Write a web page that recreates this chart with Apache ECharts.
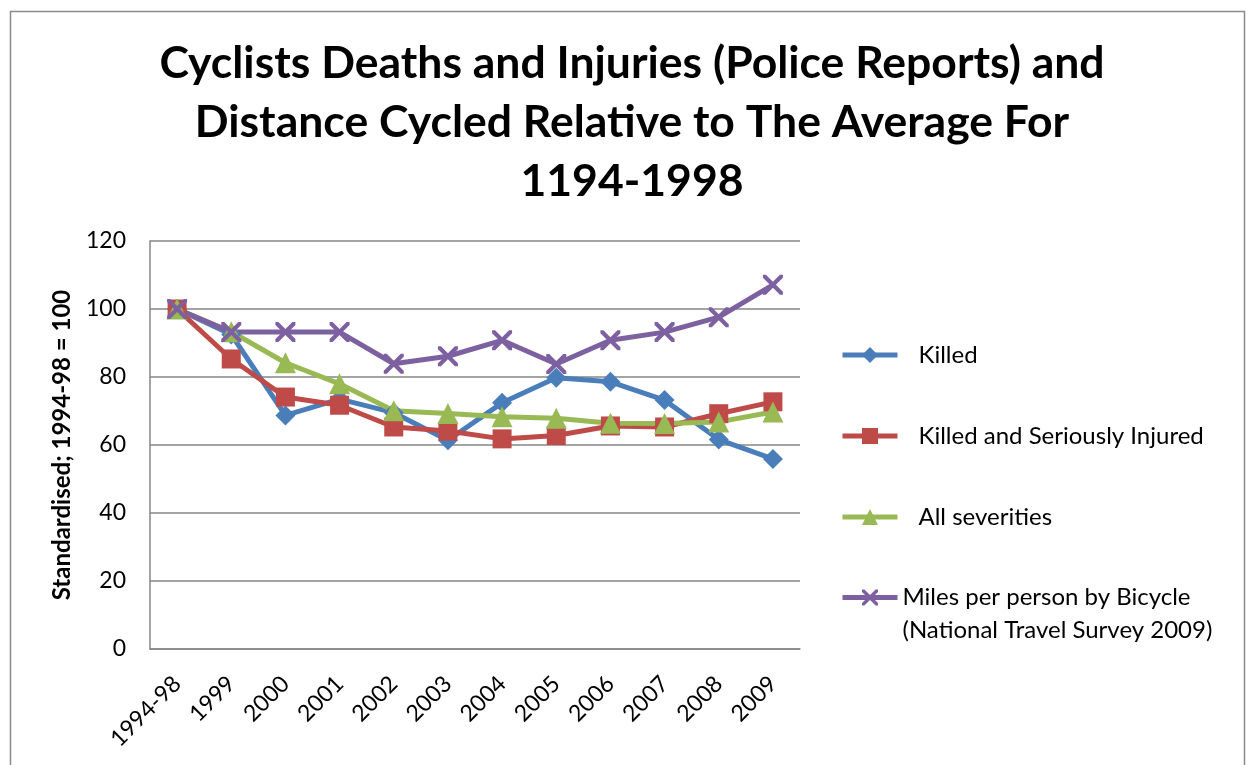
<!DOCTYPE html>
<html>
<head>
<meta charset="utf-8">
<script src="https://cdn.jsdelivr.net/npm/echarts@6/dist/echarts.min.js"></script>
<style>
html,body{margin:0;padding:0;background:#fff;}
#chart{width:1248px;height:765px;}
</style>
</head>
<body>
<div id="chart"></div>
<script>
const categories = ['1994-98','1999','2000','2001','2002','2003','2004','2005','2006','2007','2008','2009'];
const killed = [100, 92.5, 68.7, 73.5, 69.5, 61.4, 72.4, 79.8, 78.6, 73.2, 61.6, 55.9];
const killedSerious = [100, 85.3, 74.1, 71.7, 65.3, 64.1, 61.8, 62.8, 65.6, 65.3, 69.2, 72.7];
const allSeverities = [100, 93.3, 84.2, 78.0, 70.1, 69.3, 68.3, 67.9, 66.4, 66.3, 66.8, 69.7];
const milesPerPerson = [100, 93.2, 93.2, 93.2, 83.9, 86.1, 90.8, 83.8, 90.8, 93.2, 97.6, 107.1];
const yTicks = [0, 20, 40, 60, 80, 100, 120];

const FONT = 'Lato';
const xPath = 'path://M0,0 L3,0 L10,7 L17,0 L20,0 L20,3 L13,10 L20,17 L20,20 L17,20 L10,13 L3,20 L0,20 L0,17 L7,10 L0,3 Z';

const chart = echarts.init(document.getElementById('chart'), null, {renderer: 'canvas'});
const colors = ['#4A7EBB', '#BE4B48', '#98B954', '#7D60A0'];

function mk(name, data, color, symbol, size) {
  return {
    name: name, type: 'line', data: data,
    symbol: symbol, symbolSize: size,
    lineStyle: {color: color, width: 5},
    itemStyle: {color: color},
    emphasis: {disabled: true},
    animation: false
  };
}

chart.setOption({
  animation: false,
  color: colors,
  graphic: [{
    type: 'rect', shape: {x: 10.5, y: 11.5, width: 1234, height: 800},
    style: {fill: 'none', stroke: '#8a8a8a', lineWidth: 1.5}, silent: true
  }],
  title: {
    text: 'Cyclists Deaths and Injuries (Police Reports) and\nDistance Cycled Relative to The Average For\n1194-1998',
    left: 627, top: 29, textAlign: 'center',
    textStyle: {fontFamily: FONT, fontWeight: 'bold', fontSize: 44.5, lineHeight: 59, color: '#000'}
  },
  grid: {left: 150, right: 448, top: 241, bottom: 116, containLabel: false},
  xAxis: {
    type: 'category', data: categories, boundaryGap: true,
    axisLine: {lineStyle: {color: '#868686', width: 1.5}},
    axisTick: {show: false},
    axisLabel: {rotate: 45, interval: 0, margin: 31, fontFamily: FONT, fontSize: 23, color: '#000'}
  },
  yAxis: {
    type: 'value', min: 0, max: 120, interval: 20,
    name: 'Standardised; 1994-98 = 100', nameLocation: 'middle', nameGap: 76, nameRotate: 90,
    nameTextStyle: {fontFamily: FONT, fontWeight: 'bold', fontSize: 24, color: '#000'},
    axisLine: {show: true, lineStyle: {color: '#868686', width: 1.5}},
    axisTick: {show: false},
    splitLine: {lineStyle: {color: '#868686', width: 1.5}},
    axisLabel: {margin: 24, fontFamily: FONT, fontSize: 23, color: '#000',
      formatter: function (v) { return yTicks.indexOf(v) >= 0 ? String(v) : ''; }}
  },
  legend: [{
    orient: 'vertical', left: 840, top: 343, padding: 0, itemWidth: 55, itemHeight: 20, itemGap: 57,
    data: ['Killed', 'Killed and Seriously Injured', 'All severities'],
    lineStyle: {width: 5},
    textStyle: {fontFamily: FONT, fontSize: 24, lineHeight: 20, color: '#000', padding: [0, 0, 0, 16]},
    selectedMode: false
  }, {
    orient: 'vertical', left: 840, top: 548, padding: 0, itemWidth: 55, itemHeight: 20,
    data: ['Miles per person by Bicycle'],
    lineStyle: {width: 5},
    formatter: function () { return ' \nMiles per person by Bicycle\n(National Travel Survey 2009)'; },
    textStyle: {fontFamily: FONT, fontSize: 24, lineHeight: 33, color: '#000'},
    selectedMode: false
  }],
  series: [
    mk('Killed', killed, colors[0], 'diamond', 20),
    mk('Killed and Seriously Injured', killedSerious, colors[1], 'rect', 19),
    mk('All severities', allSeverities, colors[2], 'triangle', 21),
    mk('Miles per person by Bicycle', milesPerPerson, colors[3], xPath, 20)
  ]
});
</script>
</body>
</html>
